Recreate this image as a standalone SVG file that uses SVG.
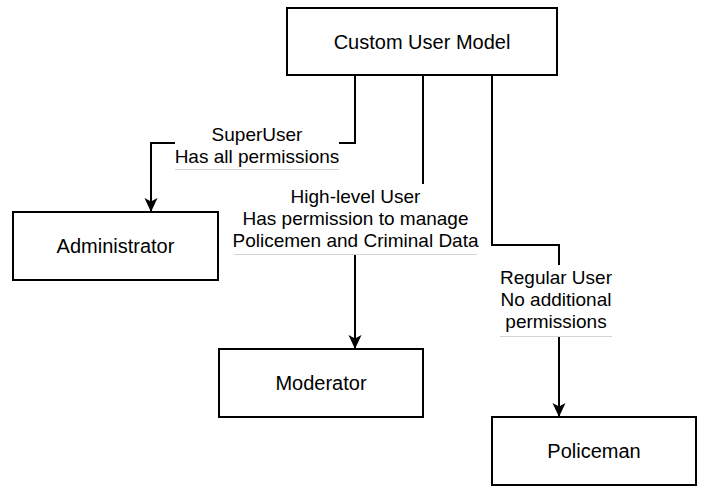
<svg xmlns="http://www.w3.org/2000/svg" width="702" height="487" viewBox="0 0 702 487">
<style>
.box{fill:#fff;stroke:#000;stroke-width:2}
.bt{font-family:"Liberation Sans",Arial,sans-serif;font-size:20px;fill:#000;text-anchor:middle}
.lt{font-family:"Liberation Sans",Arial,sans-serif;font-size:19px;fill:#000;text-anchor:middle}
.edge{fill:none;stroke:#000;stroke-width:2}
.lbg{fill:#fff}
.ul{stroke:#d4d4d4;stroke-width:1}
</style>
<defs>
<marker id="arr" markerUnits="userSpaceOnUse" markerWidth="16" markerHeight="16" viewBox="0 0 16 16" refX="14" refY="8" orient="auto">
<path d="M0,1.5 L14,8 L0,14.5 L3.5,8 Z" fill="#000"/>
</marker>
</defs>
<g id="connectors">
<path class="edge" d="M355,75 V143 H151 V212" marker-end="url(#arr)"/>
<path class="edge" d="M423,75 V219 H355 V349" marker-end="url(#arr)"/>
<path class="edge" d="M492,75 V245 H559 V417" marker-end="url(#arr)"/>
</g>
<g id="label-superuser">
<rect class="lbg" x="175" y="123" width="164" height="46"/>
<text class="lt" x="257" y="141">SuperUser</text>
<text class="lt" x="257" y="163">Has all permissions</text>
<line class="ul" x1="175" y1="169.5" x2="339" y2="169.5"/>
</g>
<g id="label-highlevel">
<rect class="lbg" x="234" y="184" width="243" height="70"/>
<text class="lt" x="355.5" y="203">High-level User</text>
<text class="lt" x="355.5" y="225">Has permission to manage</text>
<text class="lt" x="355.5" y="247">Policemen and Criminal Data</text>
<line class="ul" x1="234" y1="254.5" x2="477" y2="254.5"/>
</g>
<g id="label-regular">
<rect class="lbg" x="500" y="265" width="112" height="72"/>
<text class="lt" x="556" y="284">Regular User</text>
<text class="lt" x="556" y="306">No additional</text>
<text class="lt" x="556" y="328">permissions</text>
<line class="ul" x1="500" y1="336.5" x2="612" y2="336.5"/>
</g>
<g id="node-custom-user-model">
<rect class="box" x="287" y="8" width="270" height="67"/>
<text class="bt" x="422" y="48.5">Custom User Model</text>
</g>
<g id="node-administrator">
<rect class="box" x="13" y="212" width="205" height="68"/>
<text class="bt" x="115.5" y="253">Administrator</text>
</g>
<g id="node-moderator">
<rect class="box" x="219" y="349" width="204" height="68"/>
<text class="bt" x="321" y="390">Moderator</text>
</g>
<g id="node-policeman">
<rect class="box" x="492" y="417" width="204" height="68"/>
<text class="bt" x="594" y="458">Policeman</text>
</g>
</svg>
